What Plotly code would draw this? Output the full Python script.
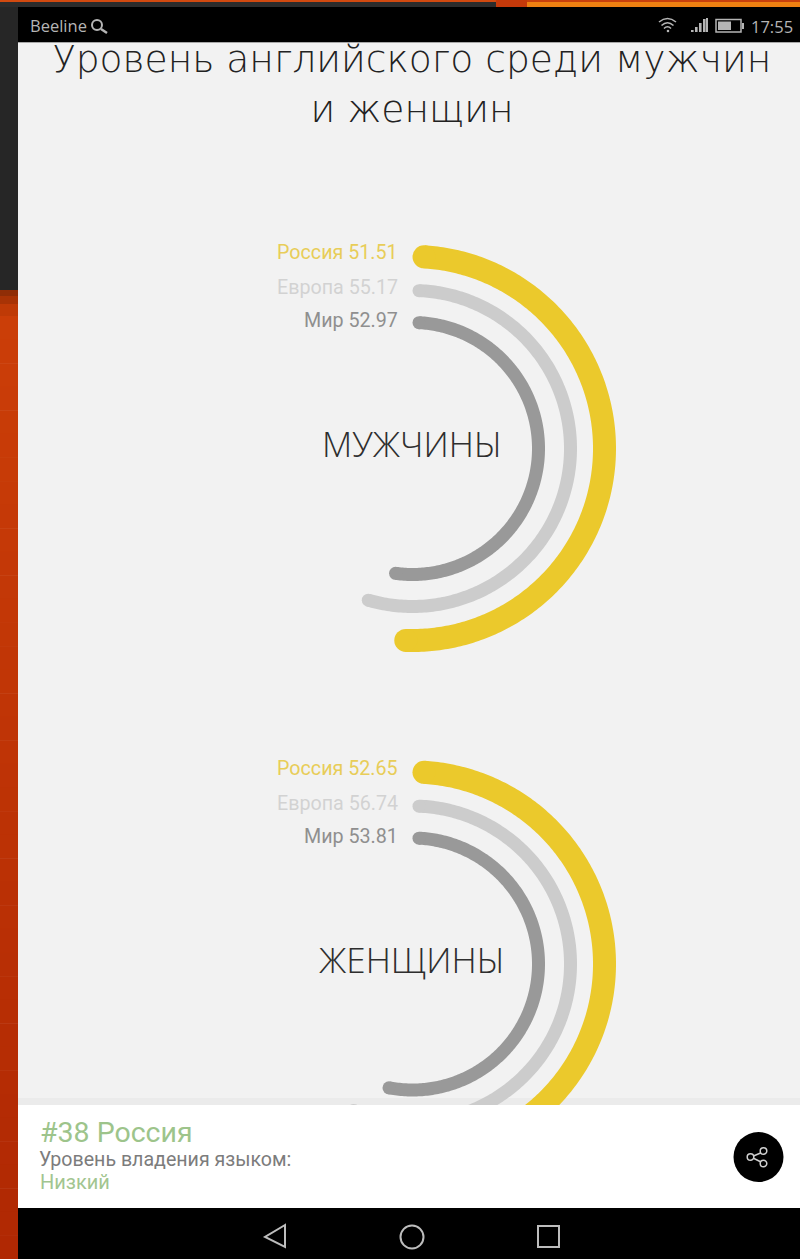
import math
import numpy as np
import plotly.graph_objects as go

W, H = 800, 1259

# ---- data ----
REGIONS = ["Россия", "Европа", "Мир"]
MEN = [51.51, 55.17, 52.97]
WOMEN = [52.65, 56.74, 53.81]
GROUPS = ["МУЖЧИНЫ", "ЖЕНЩИНЫ"]
TITLE_LINES = ["Уровень английского среди мужчин", "и женщин"]

# ---- style ----
COLORS = ["#ebc92c", "#cccccc", "#999999"]
LABEL_COLORS = ["#e8cd58", "#d2d2d2", "#8f8f8f"]
RADII = [192, 158, 126]
WIDTHS = [23, 13, 13]
CX = 412.5
CYS = [448.5, 964]
DOMAIN_R = 220
LABEL_OFF = [4, 3, 2]
BG = "#f2f2f2"

fig = go.Figure()

# hidden pixel axes used for overlay text / shapes
fig.update_layout(
    width=W, height=H, margin=dict(l=0, r=0, t=0, b=0),
    paper_bgcolor=BG, plot_bgcolor="rgba(0,0,0,0)", showlegend=False,
    xaxis=dict(range=[0, W], visible=False, domain=[0, 1], fixedrange=True),
    yaxis=dict(range=[H, 0], visible=False, domain=[0, 1], fixedrange=True),
)

# title lives under the status bar, so it is a text trace
fig.add_trace(go.Scatter(
    x=[412, 412], y=[63, 113], mode="text", text=TITLE_LINES,
    textposition="middle center", cliponaxis=False, hoverinfo="skip",
    textfont=dict(family="DejaVu Sans", size=37.6, color="#222222", weight=200),
))

def add_rings(values, cy, name):
    subplot = name
    for i, v in enumerate(values):
        r, w = RADII[i], WIDTHS[i]
        inset = math.degrees(math.asin((w / 2) / r))
        theta = np.linspace(inset, v * 3.6 - inset, 240)
        fig.add_trace(go.Scatterpolar(
            r=[r] * len(theta), theta=theta, mode="lines", subplot=subplot,
            line=dict(color=COLORS[i], width=w), cliponaxis=False, hoverinfo="skip",
        ))
        fig.add_trace(go.Scatterpolar(
            r=[r, r], theta=[theta[0], theta[-1]], mode="markers", subplot=subplot,
            marker=dict(color=COLORS[i], size=w, line=dict(width=0)),
            cliponaxis=False, hoverinfo="skip",
        ))
    fig.update_layout(**{subplot: dict(
        domain=dict(x=[(CX - DOMAIN_R) / W, (CX + DOMAIN_R) / W],
                    y=[1 - (cy + DOMAIN_R) / H, 1 - (cy - DOMAIN_R) / H]),
        bgcolor="rgba(0,0,0,0)",
        radialaxis=dict(range=[0, DOMAIN_R], visible=False),
        angularaxis=dict(direction="clockwise", rotation=90, visible=False),
    )})

add_rings(MEN, CYS[0], "polar")
add_rings(WOMEN, CYS[1], "polar2")

shapes = []
def rect(x0, y0, x1, y1, fill, layer="above", line=None, lw=0):
    shapes.append(dict(type="rect", x0=x0, y0=y0, x1=x1, y1=y1, xref="x", yref="y",
                       fillcolor=fill, layer=layer, line=dict(color=line or fill, width=lw)))
def circle(cx, cy, r, fill, line=None, lw=0):
    shapes.append(dict(type="circle", x0=cx - r, y0=cy - r, x1=cx + r, y1=cy + r, xref="x", yref="y",
                       fillcolor=fill, layer="above", line=dict(color=line or fill, width=lw)))
def path(d, line, lw, fill="rgba(0,0,0,0)"):
    shapes.append(dict(type="path", path=d, xref="x", yref="y", fillcolor=fill, layer="above",
                       line=dict(color=line, width=lw)))

# left strip and top edge
rect(0, 0, 18, 290, "#262626")
for y0, y1, c in [(290, 296, "#8f2d06"), (296, 304, "#a83305"), (304, 316, "#bf3a06")]:
    rect(0, y0, 18, y1, c)
STRIP_TOP, STRIP_BOT = (203, 62, 8), (176, 40, 3)
edges = np.linspace(316, H, 41)
for k in range(40):
    t = k / 39
    c = tuple(round(a + (b - a) * t) for a, b in zip(STRIP_TOP, STRIP_BOT))
    rect(0, edges[k], 18, edges[k + 1] + 0.5, f"rgb{c}")
rect(0, 0, 800, 2, "#d24a10")
rect(0, 2, 496, 7, "#2c2c2c")
rect(496, 0, 527, 7, "#c5390a")
rect(527, 2, 800, 7, "#ee8011")
rect(527, 0, 800, 2, "#c8400c")

# status bar
rect(18, 7, 800, 42, "#000000")
rect(18, 42, 800, 43, "#a8a8a8")
circle(97, 25, 5, "rgba(0,0,0,0)", "#b5b5b5", 2)
path("M 101 29 L 107 33", "#b5b5b5", 2.5)
# wifi
path("M 659 22 Q 667.5 15 676 22", "#b5b5b5", 1.6)
path("M 661.5 25.5 Q 667.5 20 673.5 25.5", "#b5b5b5", 1.6)
path("M 664 28.5 Q 667.5 25 671 28.5", "#b5b5b5", 1.6)
circle(668, 31, 1.3, "#b5b5b5")
# signal
for bx, by in zip([691, 695, 699, 703], [30, 27, 23, 19]):
    rect(bx, by, bx + 2.6, 32, "#b5b5b5")
rect(706, 18, 708, 32, "#b5b5b5")
# battery
rect(716, 19.5, 741, 32, "rgba(0,0,0,0)", line="#b5b5b5", lw=1.5)
rect(718, 21.5, 731, 30, "#b5b5b5")
rect(742, 23, 744, 29, "#b5b5b5")

# bottom sheet
rect(18, 1098, 800, 1105, "#ebebeb", layer="below")
rect(18, 1105, 800, 1208, "#ffffff")
rect(18, 1208, 800, H, "#000000")
circle(758.5, 1157, 25, "#000000")
path("M 751 1157 L 763 1152 M 751 1157 L 763 1163", "#cfcfcf", 1.5)
for nx, ny in [(763.5, 1151), (750.5, 1157), (763.5, 1163.5)]:
    circle(nx, ny, 3.3, "#000000", "#cfcfcf", 1.5)
path("M 285 1225 L 265 1237 L 285 1247 Z", "#bdbdbd", 2)
circle(412, 1237, 11.5, "rgba(0,0,0,0)", "#bdbdbd", 2)
rect(538, 1226, 559, 1247, "rgba(0,0,0,0)", line="#bdbdbd", lw=2)
fig.update_layout(shapes=shapes)

ann = []
def text(x, y, s, size, color, anchor="left", family="Roboto", weight=None):
    f = dict(family=family, size=size, color=color)
    if weight:
        f["weight"] = weight
    ann.append(dict(x=x, y=y, xref="x", yref="y", text=s, showarrow=False,
                    xanchor=anchor, yanchor="middle", font=f))

for vals, cy, grp in zip([MEN, WOMEN], CYS, GROUPS):
    for i, v in enumerate(vals):
        text(400, cy - RADII[i] - LABEL_OFF[i], f"{REGIONS[i]} {v:.2f}", 19.7, LABEL_COLORS[i], "right")
    text(CX - 1, cy - 5, grp, 35, "#2e2e2e", "center", "Open Sans", 300)

text(28, 25, "Beeline", 16.5, "#b5b5b5", family="Open Sans")
text(795, 26, "17:55", 16.5, "#b5b5b5", "right", "Open Sans")
text(38, 1132, "#38 Россия", 28.5, "#9dc48b")
text(37, 1159, "Уровень владения языком:", 19.6, "#7c7c7c")
text(38, 1182, "Низкий", 20, "#a2c590")
fig.update_layout(annotations=ann)

fig.write_html("out.html", config={"displayModeBar": False},
               post_script="document.body.style.margin='0';")
